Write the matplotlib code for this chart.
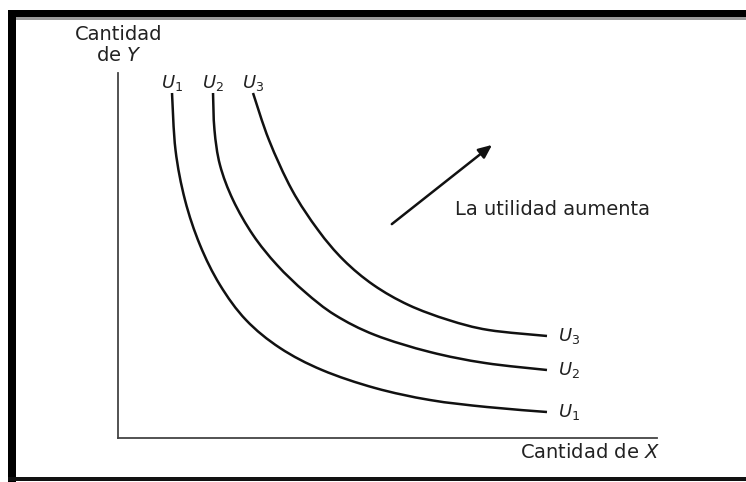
import matplotlib
matplotlib.use("Agg")
import matplotlib.pyplot as plt
from matplotlib.patches import Rectangle, PathPatch
from matplotlib.path import Path

# Indifference curves (x = quantity of X, y = quantity of Y)
u1_x = [1.002, 1.067, 1.243, 1.521, 1.892, 2.375, 3.006, 3.785, 4.768, 5.788, 6.846, 7.959]
u1_y = [9.452, 7.890, 6.521, 5.288, 4.192, 3.233, 2.466, 1.863, 1.370, 1.041, 0.849, 0.712]

u2_x = [1.763, 1.790, 1.892, 2.134, 2.505, 2.950, 3.469, 4.026, 4.768, 5.788, 6.809, 7.959]
u2_y = [9.452, 8.438, 7.479, 6.521, 5.562, 4.740, 4.000, 3.370, 2.822, 2.356, 2.055, 1.863]

u3_x = [2.505, 2.801, 3.228, 3.711, 4.184, 4.740, 5.390, 6.132, 6.874, 7.959]
u3_y = [9.452, 8.164, 6.795, 5.699, 4.877, 4.192, 3.644, 3.233, 2.959, 2.795]

curve_labels = [r"$U_1$", r"$U_2$", r"$U_3$"]

arrow_tail = (5.08, 5.86)
arrow_head = (6.94, 8.03)
arrow_text = "La utilidad aumenta"
arrow_text_pos = (6.25, 6.25)

W, H = 746, 482
fig = plt.figure(figsize=(W / 100, H / 100), dpi=100)
fig.patch.set_facecolor("white")

ax = fig.add_axes([118 / W, (H - 438) / H, 539 / W, (438 - 73) / H])
ax.set_xlim(0, 10)
ax.set_ylim(0, 10)
ax.set_xticks([])
ax.set_yticks([])
for s in ["top", "right"]:
    ax.spines[s].set_visible(False)
for s in ["left", "bottom"]:
    ax.spines[s].set_color("#444444")
    ax.spines[s].set_linewidth(1.3)


def smooth_path(xs, ys):
    """Catmull-Rom style smooth line through the read points, as Bezier segments."""
    pts = list(zip(xs, ys))
    n = len(pts)
    verts = [pts[0]]
    codes = [Path.MOVETO]
    for i in range(n - 1):
        p0 = pts[i - 1] if i > 0 else pts[i]
        p1 = pts[i]
        p2 = pts[i + 1]
        p3 = pts[i + 2] if i + 2 < n else pts[i + 1]
        c1 = (p1[0] + (p2[0] - p0[0]) / 6, p1[1] + (p2[1] - p0[1]) / 6)
        c2 = (p2[0] - (p3[0] - p1[0]) / 6, p2[1] - (p3[1] - p1[1]) / 6)
        verts += [c1, c2, p2]
        codes += [Path.CURVE4] * 3
    return Path(verts, codes)


for xs, ys, lab in zip([u1_x, u2_x, u3_x], [u1_y, u2_y, u3_y], curve_labels):
    ax.add_patch(PathPatch(smooth_path(xs, ys), facecolor="none", edgecolor="#111111",
                           lw=1.8, capstyle="butt", joinstyle="round"))
    ax.annotate(lab, xy=(xs[0], ys[0]), xytext=(0, 7), textcoords="offset points",
                ha="center", va="center", fontsize=13, color="#222222")
    ax.annotate(lab, xy=(xs[-1], ys[-1]), xytext=(8, 0), textcoords="offset points",
                ha="left", va="center", fontsize=13, color="#222222")

ax.annotate("", xy=arrow_head, xytext=arrow_tail,
            arrowprops=dict(arrowstyle="-|>,head_length=0.8,head_width=0.35",
                            color="#111111", lw=1.8, shrinkA=0, shrinkB=0))
ax.text(arrow_text_pos[0], arrow_text_pos[1], arrow_text, ha="left", va="center",
        fontsize=14, color="#222222")

fig.text(119 / W, 1 - 45 / H, "Cantidad\nde $Y$", ha="center", va="center",
         fontsize=14, color="#222222", linespacing=1.1)
fig.text(520 / W, 1 - 453 / H, "Cantidad de $X$", ha="left", va="center",
         fontsize=14, color="#222222")

# scanned black frame
fig.add_artist(Rectangle((8 / W, 1 - 17 / H), 1 - 8 / W, 7 / H, transform=fig.transFigure,
                         facecolor="black", edgecolor="none"))
fig.add_artist(Rectangle((8 / W, 1 - 20 / H), 1 - 8 / W, 3 / H, transform=fig.transFigure,
                         facecolor="#9a9a9a", edgecolor="none"))
fig.add_artist(Rectangle((8 / W, 0), 8 / W, 1 - 10 / H, transform=fig.transFigure,
                         facecolor="black", edgecolor="none"))
fig.add_artist(Rectangle((8 / W, 1 / H), 1 - 8 / W, 4 / H, transform=fig.transFigure,
                         facecolor="#111111", edgecolor="none"))

fig.savefig("out.png", dpi=100, facecolor="white")
